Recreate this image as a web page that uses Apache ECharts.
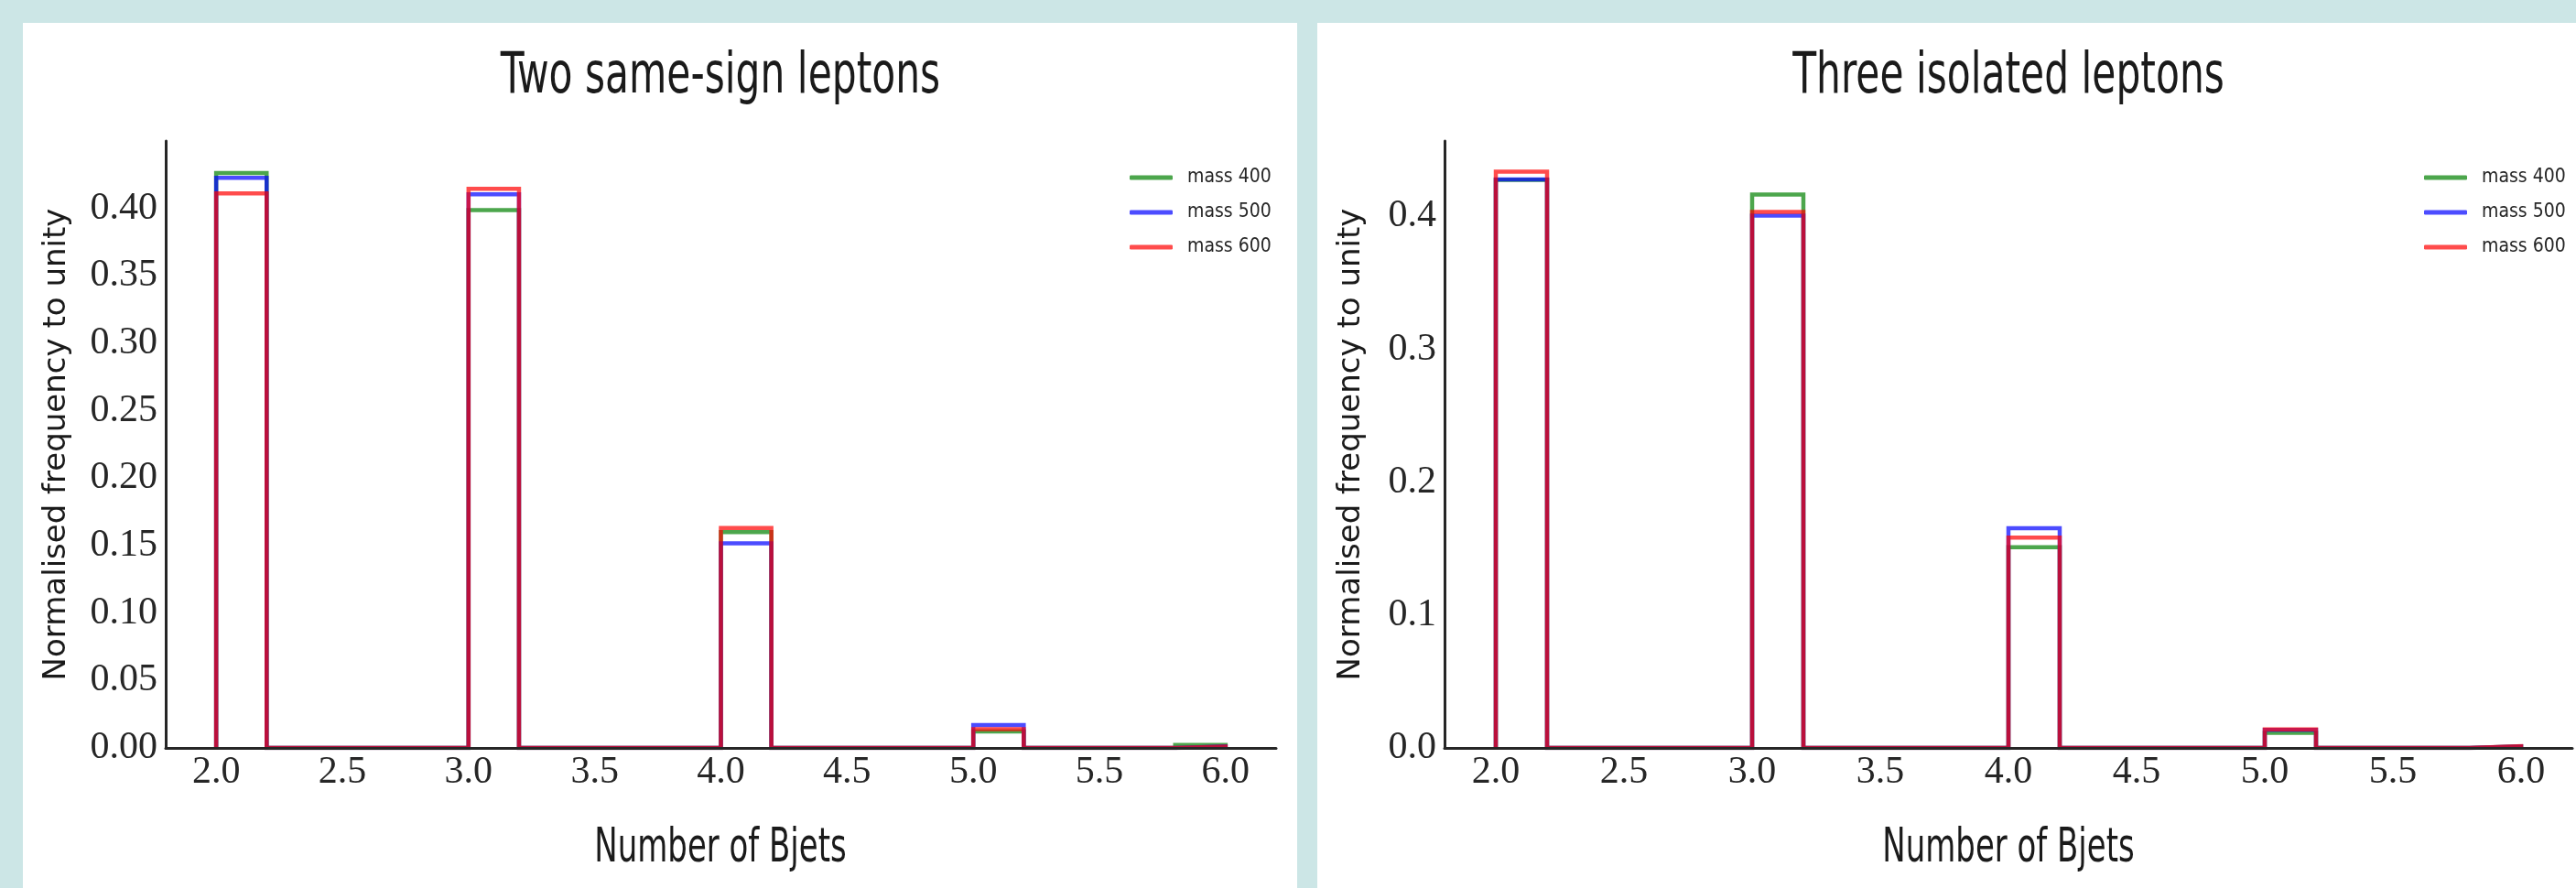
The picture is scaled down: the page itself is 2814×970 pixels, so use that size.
<!DOCTYPE html>
<html>
<head>
<meta charset="utf-8">
<script src="https://cdn.jsdelivr.net/npm/echarts@6/dist/echarts.min.js"></script>
<style>
  html, body { margin: 0; padding: 0; }
  body { width: 2814px; height: 970px; background: #cce6e6; position: relative; overflow: hidden; }
  .panel { position: absolute; top: 25px; height: 945px; background: #ffffff; }
</style>
</head>
<body>
<div id="left" class="panel" style="left: 25px; width: 1392px;"></div>
<div id="right" class="panel" style="left: 1439px; width: 1375px;"></div>
<script>
// number of b-jets per event (each sits in one 0.2-wide bin from 2 to 6)
const nBjets = [2, 3, 4, 5, 6];
const binMin = 2.0;
const binMax = 6.0;
const binWidth = 0.2;

const seriesNames = ['mass 400', 'mass 500', 'mass 600'];

// two same-sign leptons, normalised
const ss400 = [0.4263, 0.3988, 0.1600, 0.0122, 0.0022];
const ss500 = [0.4226, 0.4104, 0.1517, 0.0170, 0.0012];
const ss600 = [0.4111, 0.4145, 0.1630, 0.0139, 0.0009];

// three isolated leptons, normalised
const tri400 = [0.4275, 0.4164, 0.1510, 0.0113, 0.0011];
const tri500 = [0.4278, 0.4006, 0.1654, 0.0136, 0.0012];
const tri600 = [0.4336, 0.4034, 0.1582, 0.0139, 0.0013];

const xTicks = [2.0, 2.5, 3.0, 3.5, 4.0, 4.5, 5.0, 5.5, 6.0];
const ssYTicks = [0, 0.05, 0.10, 0.15, 0.20, 0.25, 0.30, 0.35, 0.40];
const triYTicks = [0, 0.1, 0.2, 0.3, 0.4];

const colors = ['rgba(0, 128, 0, 0.7)', 'rgba(0, 0, 255, 0.7)', 'rgba(255, 0, 0, 0.7)'];

const tickFont = "'Liberation Serif', 'DejaVu Serif Condensed', serif";
const sansFont = "'DejaVu Sans Condensed', 'Liberation Sans Narrow', 'Liberation Sans', sans-serif";
const legendFont = "'Liberation Sans Narrow', 'DejaVu Sans Condensed', sans-serif";

// outline of a step histogram, like matplotlib histtype='step'
const stepPoints = (values) => {
    const nBins = Math.round((binMax - binMin) / binWidth);
    const heights = new Array(nBins).fill(0);
    nBjets.forEach((n, i) => {
        heights[Math.min(Math.round((n - binMin) / binWidth), nBins - 1)] = values[i];
    });
    const pts = [[binMin, 0]];
    heights.forEach((h, i) => pts.push([+(binMin + i * binWidth).toFixed(2), h]));
    pts.push([binMax, heights[nBins - 1]]);
    pts.push([binMax, 0]);
    return pts;
};

// narrow, tall lettering like the original figure
const label = (text, x, y, size, sx) => ({
    type: 'text',
    x: x,
    y: y,
    scaleX: sx,
    style: {
        text: text,
        font: size + 'px ' + sansFont,
        fill: '#1a1a1a',
        textAlign: 'center',
        textVerticalAlign: 'middle'
    }
});

const makeOption = (cfg) => ({
    animation: false,
    graphic: [
        label(cfg.title, cfg.centerX, 60, 62, 0.76),
        label('Number of Bjets', cfg.centerX, 903, 51, 0.74)
    ],
    legend: {
        orient: 'vertical',
        left: cfg.legendLeft,
        top: 152,
        itemWidth: 47,
        itemHeight: 5,
        itemGap: 14,
        icon: 'roundRect',
        data: seriesNames,
        textStyle: {
            fontFamily: legendFont,
            fontSize: 21,
            lineHeight: 24,
            color: '#262626',
            padding: [0, 0, 0, 11]
        }
    },
    grid: {
        left: cfg.gridLeft,
        top: 129,
        width: cfg.gridWidth,
        height: 663,
        containLabel: false
    },
    xAxis: {
        type: 'value',
        min: 1.8,
        max: 6.2,
        z: 10,
        axisLine: { show: true, lineStyle: { color: '#262626', width: 3 } },
        axisTick: { show: false },
        splitLine: { show: false },
        axisLabel: {
            customValues: xTicks,
            formatter: (v) => v.toFixed(1),
            fontFamily: tickFont,
            fontSize: 42,
            color: '#262626',
            margin: 6
        }
    },
    yAxis: {
        type: 'value',
        min: 0,
        max: cfg.yMax,
        z: 10,
        name: 'Normalised frequency to unity',
        nameLocation: 'middle',
        nameGap: cfg.yNameGap,
        nameTextStyle: { fontFamily: "'DejaVu Sans', sans-serif", fontSize: 34, color: '#1a1a1a' },
        axisLine: { show: true, lineStyle: { color: '#262626', width: 3 } },
        axisTick: { show: false },
        splitLine: { show: false },
        axisLabel: {
            customValues: cfg.yTicks,
            formatter: (v) => v.toFixed(cfg.yDigits),
            fontFamily: tickFont,
            fontSize: 42,
            color: '#262626',
            margin: 9
        }
    },
    series: cfg.values.map((vals, i) => ({
        name: seriesNames[i],
        type: 'line',
        step: 'end',
        showSymbol: false,
        symbol: 'none',
        color: colors[i],
        lineStyle: { width: 4.5, color: colors[i], cap: 'butt', join: 'miter' },
        data: stepPoints(vals)
    }))
});

const leftChart = echarts.init(document.getElementById('left'));
leftChart.setOption(makeOption({
    title: 'Two same-sign leptons',
    centerX: 762,
    legendLeft: 1204,
    gridLeft: 156,
    gridWidth: 1213,
    yMax: 0.45,
    yTicks: ssYTicks,
    yDigits: 2,
    yNameGap: 102,
    values: [ss400, ss500, ss600]
}));

const rightChart = echarts.init(document.getElementById('right'));
rightChart.setOption(makeOption({
    title: 'Three isolated leptons',
    centerX: 755,
    legendLeft: 1204,
    gridLeft: 139,
    gridWidth: 1232,
    yMax: 0.4567,
    yTicks: triYTicks,
    yDigits: 1,
    yNameGap: 85,
    values: [tri400, tri500, tri600]
}));

window.addEventListener('resize', () => { leftChart.resize(); rightChart.resize(); });
</script>
</body>
</html>
